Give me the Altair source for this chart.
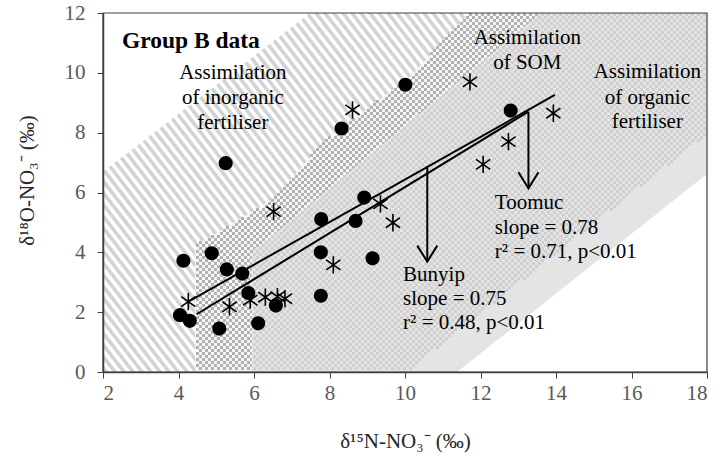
import altair as alt
import numpy as np
import pandas as pd

# ---------------- data ----------------
# filled circles
circle_x = [4.13, 4.88, 5.28, 5.69, 5.85, 4.04, 4.30, 5.08, 6.11, 6.58,
            7.78, 7.77, 7.77, 8.69, 8.92, 9.14, 5.25, 8.32, 10.01, 12.80]
circle_y = [3.72, 3.97, 3.43, 3.29, 2.64, 1.90, 1.71, 1.45, 1.63, 2.22,
            5.11, 4.00, 2.55, 5.05, 5.83, 3.80, 6.98, 8.14, 9.60, 8.74]
# asterisks
star_x = [4.26, 5.35, 5.90, 6.30, 6.62, 6.82, 6.52, 8.10, 9.35, 9.68,
          8.61, 11.72, 13.93, 12.74, 12.07]
star_y = [2.35, 2.18, 2.40, 2.50, 2.52, 2.45, 5.36, 3.58, 5.62, 4.99,
          8.76, 9.70, 8.65, 7.70, 6.94]

# regression lines (end points)
bunyip_line_x = [4.26, 13.97]
bunyip_line_y = [2.35, 9.26]
toomuc_line_x = [4.48, 13.27]
toomuc_line_y = [1.93, 8.70]

# arrows
arrow_x = [10.59, 13.27]
arrow_from = [6.88, 8.70]
arrow_to = [3.69, 6.14]

# source-zone boundaries
stripe_top_x = [2.0, 7.49]          # upper edge of the striped zone
stripe_top_y = [6.69, 12.0]
som_top_x = [4.44, 4.52, 4.80, 6.54, 7.84, 10.14, 11.69, 18.0]
som_top_y = [4.05, 4.30, 4.48, 5.81, 7.70, 9.88, 12.0, 12.0]
light_top_x = [5.94, 6.02, 6.25, 13.6, 18.0]
light_top_y = [3.95, 4.12, 4.30, 12.0, 12.0]
dotted_low_x = [10.1, 18.0]         # lower edge of dotted zone
dotted_low_y = [0.0, 7.9]
white_low_x = [11.38, 18.0]         # lower edge of plain grey zone
white_low_y = [0.0, 6.62]

# texts
label_text = ["Assimilation", "of inorganic", "fertiliser",
              "Assimilation", "of SOM",
              "Assimilation", "of organic", "fertiliser",
              "Toomuc", "slope = 0.78", "r² = 0.71, p<0.01",
              "Bunyip", "slope = 0.75", "r² = 0.48, p<0.01"]
label_x = [5.44, 5.44, 5.44, 13.24, 13.24, 16.42, 16.42, 16.42,
           12.38, 12.38, 12.38, 9.95, 9.95, 9.95]
label_y = [9.99, 9.16, 8.32, 11.16, 10.33, 10.03, 9.16, 8.36,
           5.65, 4.81, 4.01, 3.24, 2.44, 1.64]
label_align = ["center"] * 8 + ["left"] * 6

# ---------------- geometry helpers ----------------
W, H = 604, 359
X0, X1, Y0, Y1 = 2.0, 18.0, 0.0, 12.0
PX = W / (X1 - X0)
PY = H / (Y1 - Y0)

FONT = "Liberation Serif"
xs = alt.Scale(domain=[X0, X1], nice=False, zero=False)
ys = alt.Scale(domain=[Y0, Y1], nice=False, zero=False)

x_axis = alt.Axis(values=list(range(2, 19, 2)), title="δ¹⁵N-NO₃⁻ (‰)", grid=False,
                  domainColor="#404040", domainWidth=1.5, tickColor="#404040",
                  tickSize=6, tickWidth=1, labelFont=FONT, labelFontSize=21,
                  labelColor="#595959", labelPadding=4, titleFont=FONT,
                  titleFontSize=21, titleFontWeight="normal", titleColor="#262626",
                  titleY=69, titleBaseline="middle", zindex=2)
y_axis = alt.Axis(values=list(range(0, 13, 2)), title="δ¹⁸O-NO₃⁻ (‰)", grid=False,
                  domainColor="#404040", domainWidth=1.5, tickColor="#404040",
                  tickSize=6, tickWidth=1, labelFont=FONT, labelFontSize=21,
                  labelColor="#595959", labelPadding=12, titleFont=FONT,
                  titleFontSize=21, titleFontWeight="normal", titleColor="#262626",
                  titleX=-76, titleY=167, titleAlign="center",
                  titleBaseline="middle", zindex=2)


def X(f):
    return alt.X(f, type="quantitative", scale=xs, axis=x_axis)


def Y(f):
    return alt.Y(f, type="quantitative", scale=ys, axis=y_axis)


# stripes over the plot (white / zones painted over later)
slope_px = 1.3
dx_total = (Y1 - Y0 + 2) * PY / slope_px / PX
step = 9.0 / PX
xa = np.arange(X0 - dx_total - 0.5, 13.0, step)
stripes = pd.DataFrame({"x": xa.round(4), "x2": (xa + dx_total).round(4),
                        "y": np.full(len(xa), Y1 + 1), "y2": np.full(len(xa), Y0 - 1)})

# checker grid (3 px cells)
ii, jj = np.meshgrid(np.arange(W // 3), np.arange(H // 3))
m = (ii + jj) % 2 == 0
gx = X0 + (1.5 + 3 * ii[m]) / PX
gy = Y1 - (1.5 + 3 * jj[m]) / PY
som_top = np.interp(gx, som_top_x, som_top_y)
light_top = np.interp(gx, light_top_x, light_top_y)
dot_low = np.interp(gx, dotted_low_x, dotted_low_y, left=-99, right=99)
in_light = (gx >= light_top_x[0]) & (gy <= light_top) & (gy > dot_low + 0.05)
in_som = (gx >= som_top_x[0]) & (gy <= som_top) & ~((gx >= light_top_x[0]) & (gy <= light_top))
som_sq = pd.DataFrame({"x": gx[in_som].round(4), "y": gy[in_som].round(4)})
light_sq = pd.DataFrame({"x": gx[in_light].round(4), "y": gy[in_light].round(4)})

# ---------------- layers ----------------
stripe_layer = alt.Chart(stripes).mark_rule(clip=True, strokeWidth=3.6, color="#d3d3d3").encode(
    x=X("x"), x2="x2", y=Y("y"), y2="y2")

white_tl = alt.Chart(pd.DataFrame({"x": stripe_top_x, "lo": stripe_top_y, "hi": [12.0, 12.0]})
                     ).mark_area(color="white", opacity=1, clip=True).encode(x=X("x"), y=Y("lo"), y2="hi")

som_area = alt.Chart(pd.DataFrame({"x": som_top_x, "y": som_top_y, "y2": [0.0] * len(som_top_x)})
                     ).mark_area(color="#f6f6f6", opacity=1, clip=True).encode(x=X("x"), y=Y("y"), y2="y2")
som_pts = alt.Chart(som_sq).mark_square(size=9, color="#b2b2b2", opacity=1, strokeWidth=0).encode(
    x=X("x"), y=Y("y"))

light_area = alt.Chart(pd.DataFrame({"x": light_top_x, "y": light_top_y, "y2": [0.0] * len(light_top_x)})
                       ).mark_area(color="#e4e4e4", opacity=1, clip=True).encode(x=X("x"), y=Y("y"), y2="y2")
light_pts = alt.Chart(light_sq).mark_square(size=9, color="#cfcfcf", opacity=1, strokeWidth=0).encode(
    x=X("x"), y=Y("y"))

white_br = alt.Chart(pd.DataFrame({"x": white_low_x, "y": white_low_y, "y2": [0.0, 0.0]})
                     ).mark_area(color="white", opacity=1, clip=True).encode(x=X("x"), y=Y("y"), y2="y2")

reg = pd.DataFrame({"x": bunyip_line_x + toomuc_line_x, "y": bunyip_line_y + toomuc_line_y,
                    "s": ["Bunyip", "Bunyip", "Toomuc", "Toomuc"]})
reg_layer = alt.Chart(reg).mark_line(color="black", strokeWidth=2).encode(
    x=X("x"), y=Y("y"), detail="s:N")

arr = pd.DataFrame({"x": arrow_x, "y": arrow_from, "y2": arrow_to})
shaft = alt.Chart(arr).mark_rule(color="black", strokeWidth=2).encode(x=X("x"), y=Y("y"), y2="y2")
head = alt.Chart(arr).mark_point(shape="M -1 -1.6 L 0 0 L 1 -1.6", size=400, filled=False,
                                 color="black", strokeWidth=2, opacity=1).encode(x=X("x"), y=Y("y2"))

circles = alt.Chart(pd.DataFrame({"x": circle_x, "y": circle_y})).mark_circle(
    size=200, color="black", opacity=1).encode(x=X("x"), y=Y("y"))
stars = alt.Chart(pd.DataFrame({"x": star_x, "y": star_y})).mark_point(
    shape="M 0 -1 L 0 1 M -0.82 -0.58 L 0.82 0.58 M -0.82 0.58 L 0.82 -0.58",
    size=300, filled=False, color="black", strokeWidth=1.6, opacity=1).encode(x=X("x"), y=Y("y"))

labels = alt.Chart(pd.DataFrame({"x": label_x, "y": label_y, "t": label_text, "a": label_align}))
lab_c = labels.transform_filter("datum.a == 'center'").mark_text(
    font=FONT, fontSize=21, color="black", align="center", baseline="middle").encode(
    x=X("x"), y=Y("y"), text="t:N")
lab_l = labels.transform_filter("datum.a == 'left'").mark_text(
    font=FONT, fontSize=21, color="black", align="left", baseline="middle").encode(
    x=X("x"), y=Y("y"), text="t:N")
group_lbl = alt.Chart(pd.DataFrame({"x": [2.5], "y": [11.06], "t": ["Group B data"]})).mark_text(
    font=FONT, fontSize=23.5, fontWeight="bold", color="black", align="left", baseline="middle").encode(
    x=X("x"), y=Y("y"), text="t:N")

frame = alt.Chart(pd.DataFrame({"x": [X0], "x2": [X1], "y": [Y0], "y2": [Y1]})).mark_rect(
    fillOpacity=0, stroke="#404040", strokeWidth=1.2).encode(x=X("x"), x2="x2", y=Y("y"), y2="y2")

chart = alt.layer(stripe_layer, white_tl, som_area, som_pts, light_area, light_pts, white_br,
                  reg_layer, shaft, head, circles, stars, lab_c, lab_l, group_lbl, frame
                  ).properties(
    width=W, height=H,
    padding={"left": 103, "top": 13, "right": 16, "bottom": 90},
    autosize=alt.AutoSizeParams(type="none"),
    background="white",
).configure_view(stroke=None)

chart.save("out.html", embed_options={"renderer": "svg", "actions": False})
